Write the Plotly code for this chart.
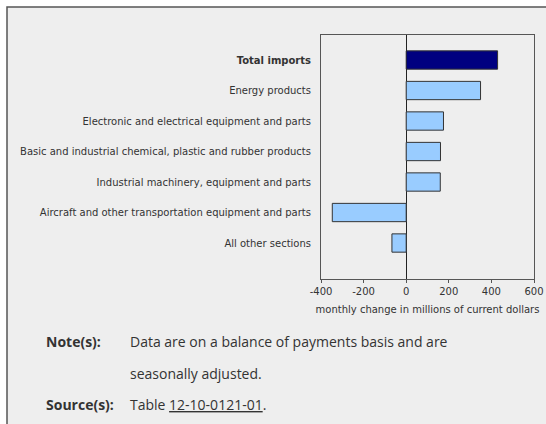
import plotly.graph_objects as go

categories = [
    "Total imports",
    "Energy products",
    "Electronic and electrical equipment and parts",
    "Basic and industrial chemical, plastic and rubber products",
    "Industrial machinery, equipment and parts",
    "Aircraft and other transportation equipment and parts",
    "All other sections",
]
values = [429, 349, 175, 161, 160, -347, -67]
bar_colors = ["#000080", "#99ccff", "#99ccff", "#99ccff", "#99ccff", "#99ccff", "#99ccff"]
tick_labels = ["<b>Total imports</b>"] + categories[1:]
x_ticks = [-400, -200, 0, 200, 400, 600]
x_tick_labels = ["-400", "-200", "0", "200", "400", "600"]

W, H = 546, 424
def px(x): return x / W
def py(y): return 1 - y / H

fig = go.Figure()
fig.add_trace(go.Bar(
    x=values, y=categories, orientation="h",
    marker=dict(color=bar_colors, line=dict(color="#333333", width=1)),
    width=0.6, hoverinfo="skip",
))

fig.update_layout(
    width=W, height=H,
    margin=dict(l=0, r=0, t=0, b=0),
    paper_bgcolor="white",
    plot_bgcolor="white",
    showlegend=False,
    font=dict(family="DejaVu Sans", size=10, color="#333333"),
    xaxis=dict(
        domain=[px(321), px(534)],
        range=[-400, 600],
        tickvals=x_ticks, ticktext=x_tick_labels,
        ticks="outside", ticklen=3, tickcolor="#555555",
        showline=True, linecolor="#555555", linewidth=1, mirror=True,
        showgrid=False,
        zeroline=True, zerolinecolor="#222222", zerolinewidth=1,
        title=dict(text="monthly change in millions of current dollars", standoff=9,
                   font=dict(size=10, color="#333333")),
        tickfont=dict(size=10, color="#333333"),
        automargin=False,
        fixedrange=True,
    ),
    yaxis=dict(
        domain=[py(279.3), py(35)],
        type="category",
        categoryorder="array", categoryarray=categories,
        range=[7.19, -0.82],
        tickvals=categories, ticktext=tick_labels,
        ticks="", ticklabelstandoff=7,
        showline=True, linecolor="#555555", linewidth=1, mirror=True,
        showgrid=False,
        tickfont=dict(size=10, color="#333333"),
        automargin=False,
        fixedrange=True,
    ),
    shapes=[
        dict(type="rect", xref="paper", yref="paper", layer="below",
             x0=px(7), x1=1.05, y0=-0.05, y1=py(7),
             fillcolor="#eeeeee", line=dict(color="#555555", width=1.5)),
    ],
)

note_font = dict(family="Open Sans", size=14, color="#333333")
anns = [
    ("<b>Note(s):</b>", 44, 341),
    ("Data are on a balance of payments basis and are", 128, 341),
    ("seasonally adjusted.", 128, 373),
    ("<b>Source(s):</b>", 44, 404),
    ("Table <u>12-10-0121-01</u>.", 128, 404),
]
for text, x, y in anns:
    fig.add_annotation(text=text, xref="paper", yref="paper", x=px(x), y=py(y),
                       xanchor="left", yanchor="middle", showarrow=False, font=note_font)

fig.write_html("out.html", config={"displayModeBar": False},
               post_script="document.body.style.margin='0';document.body.style.overflow='hidden';")
